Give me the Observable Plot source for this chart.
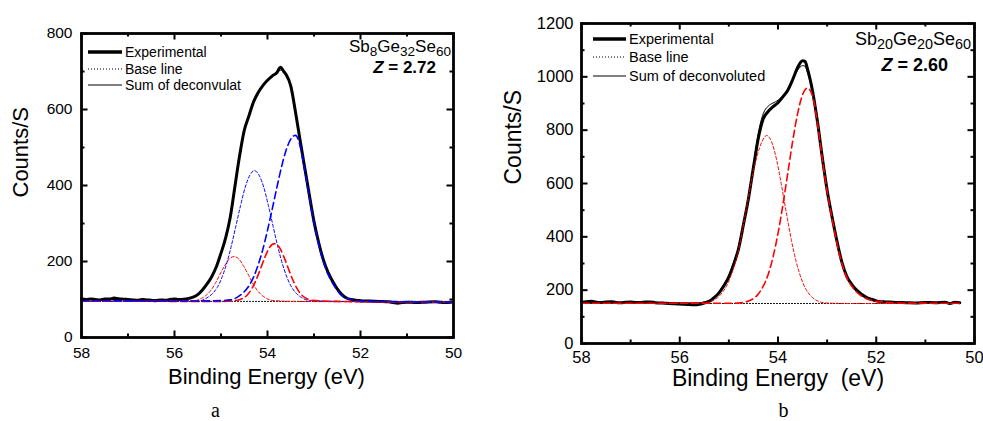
<!DOCTYPE html>
<html><head><meta charset="utf-8">
<script src="https://cdn.jsdelivr.net/npm/d3@7"></script>
<script src="https://cdn.jsdelivr.net/npm/@observablehq/plot@0.6"></script>
<style>
body{margin:0;background:#fff;width:983px;height:421px;position:relative;overflow:hidden;font-family:"Liberation Sans",Arial,sans-serif;color:#000;}
.panel{position:absolute;top:0;}
.row{position:absolute;display:flex;align-items:center;height:16px;white-space:nowrap;}
.row svg{display:block;margin-right:3px;}
.ann{position:absolute;white-space:nowrap;line-height:1;text-align:right;}
.ann sub{font-size:0.8em;vertical-align:-0.3em;line-height:0;}
</style></head><body>
<div id="pa" class="panel" style="left:0;width:490px;height:421px"></div>
<div id="pb" class="panel" style="left:490px;width:493px;height:421px"></div>
<script>
// ---------- shared axes ----------
const xMajor = [58, 56, 54, 52, 50];
const xMinor = [57, 55, 53, 51];
const aYMajor = [0, 200, 400, 600, 800];
const aYMinor = [100, 300, 500, 700];
const bYMajor = [0, 200, 400, 600, 800, 1000, 1200];
const bYMinor = [100, 300, 500, 700, 900, 1100];
const xLabelA = "Binding Energy (eV)";
const xLabelB = "Binding Energy  (eV)";
const yLabel = "Counts/S";
const legendA = ["Experimental", "Base line", "Sum of deconvulat"];
const legendB = ["Experimental", "Base line", "Sum of deconvoluted"];

// ---------- panel a : Sb8Ge32Se60 ----------
const aExperimental = [[58.0,102],[57.9,100],[57.8,101],[57.7,100],[57.6,99],[57.5,101],[57.4,101],[57.3,104],[57.2,102],[57.1,101],[57.0,100],[56.9,99],[56.8,98],[56.7,100],[56.6,99],[56.5,98],[56.4,97],[56.3,99],[56.2,98],[56.1,100],[56.0,101],[55.9,100],[55.8,101],[55.7,103],[55.6,106],[55.5,113],[55.4,125],[55.3,141],[55.2,160],[55.1,186],[55.0,222],[54.9,262],[54.8,317],[54.7,398],[54.6,478],[54.5,545],[54.4,583],[54.3,620],[54.2,645],[54.1,663],[54.0,677],[53.9,688],[53.8,697],[53.72,711],[53.65,700],[53.6,692],[53.5,662],[53.4,595],[53.3,520],[53.2,447],[53.1,375],[53.0,305],[52.9,250],[52.8,205],[52.7,172],[52.6,148],[52.5,128],[52.4,113],[52.3,104],[52.2,100],[52.1,98],[52.0,97],[51.8,96],[51.6,95],[51.4,94],[51.3,92],[51.2,90],[51.1,92],[51.0,93],[50.8,92],[50.6,93],[50.4,94],[50.3,93],[50.2,92],[50.05,93]];
const aSum = [[58.0,100],[57.0,100],[56.0,99],[55.7,102],[55.5,112],[55.3,140],[55.1,186],[55.0,222],[54.9,264],[54.8,318],[54.7,398],[54.6,476],[54.5,543],[54.4,584],[54.3,620],[54.2,645],[54.1,663],[54.0,677],[53.9,688],[53.8,698],[53.7,704],[53.6,690],[53.5,660],[53.4,595],[53.3,520],[53.2,447],[53.1,375],[53.0,305],[52.9,250],[52.8,205],[52.7,172],[52.6,148],[52.5,128],[52.4,113],[52.2,100],[52.0,97],[51.0,94],[50.05,93]];
const aBaseLine = [[58.0,95],[50.05,95]];
const aRedShort = [[58.0,96],[56.0,96],[55.52,98],[55.42,103],[55.32,111],[55.22,124],[55.12,143],[55.02,167],[54.92,189],[54.82,207],[54.72,213],[54.62,207],[54.52,189],[54.42,167],[54.32,143],[54.22,124],[54.12,111],[54.02,103],[53.92,98],[53.5,95],[52.0,94],[50.05,93]];
const aBlueShort = [[58.0,96],[56.0,96],[55.5,96],[55.28,106],[55.18,116],[55.08,132],[54.98,158],[54.88,194],[54.78,240],[54.68,293],[54.58,347],[54.48,395],[54.38,427],[54.28,439],[54.18,427],[54.08,395],[53.98,347],[53.88,293],[53.78,240],[53.68,194],[53.58,158],[53.48,132],[53.38,116],[53.28,106],[53.08,97],[52.5,95],[50.05,93]];
const aRedLong = [[58.0,96],[55.0,95],[54.65,98],[54.55,102],[54.45,110],[54.35,126],[54.25,150],[54.15,181],[54.05,213],[53.95,238],[53.85,247],[53.75,238],[53.65,213],[53.55,181],[53.45,150],[53.35,126],[53.25,110],[53.15,102],[53.05,98],[52.5,95],[50.05,93]];
const aBlueLong = [[58.0,97],[56.0,96],[55.5,96],[55.0,97],[54.8,99],[54.6,110],[54.4,136],[54.3,159],[54.2,191],[54.1,232],[54.0,282],[53.9,337],[53.8,394],[53.7,448],[53.6,493],[53.5,522],[53.4,532],[53.3,505],[53.2,440],[53.1,368],[53.0,300],[52.9,245],[52.8,200],[52.7,167],[52.6,143],[52.5,124],[52.4,110],[52.2,100],[52.0,96],[51.0,94],[50.05,93]];

// ---------- panel b : Sb20Ge20Se60 ----------
const bExperimental = [[58.0,155],[57.9,157],[57.8,158],[57.7,155],[57.6,154],[57.5,156],[57.4,157],[57.3,154],[57.2,153],[57.1,155],[57.0,156],[56.9,154],[56.8,154],[56.7,156],[56.6,156],[56.5,153],[56.4,152],[56.3,151],[56.2,150],[56.1,149],[56.0,148],[55.9,147],[55.8,146],[55.7,145],[55.6,147],[55.5,152],[55.4,158],[55.3,172],[55.2,190],[55.1,217],[55.0,250],[54.9,298],[54.8,358],[54.7,449],[54.6,545],[54.5,661],[54.4,771],[54.3,843],[54.2,870],[54.1,888],[54.0,903],[53.9,925],[53.8,950],[53.7,990],[53.6,1035],[53.5,1060],[53.45,1058],[53.4,1030],[53.3,950],[53.2,836],[53.1,700],[53.0,575],[52.9,475],[52.8,384],[52.7,305],[52.6,252],[52.5,222],[52.4,200],[52.3,185],[52.2,173],[52.1,166],[52.0,160],[51.9,157],[51.8,156],[51.6,154],[51.4,153],[51.2,152],[51.0,154],[50.8,153],[50.6,155],[50.5,150],[50.4,155],[50.3,153]];
const bSum = [[58.0,153],[57.0,153],[56.0,152],[55.6,153],[55.5,156],[55.4,162],[55.3,175],[55.2,195],[55.1,222],[55.0,256],[54.9,305],[54.8,366],[54.7,452],[54.6,550],[54.5,665],[54.4,790],[54.3,862],[54.2,890],[54.1,902],[54.0,912],[53.9,930],[53.8,955],[53.7,990],[53.6,1025],[53.5,1042],[53.45,1040],[53.4,1015],[53.3,945],[53.2,830],[53.1,697],[53.0,572],[52.9,470],[52.8,378],[52.7,303],[52.6,250],[52.5,218],[52.4,196],[52.3,181],[52.2,170],[52.1,163],[52.0,158],[51.5,153],[50.3,152]];
const bBaseLine = [[58.0,150],[50.3,150]];
const bRedShort = [[58.0,151],[56.0,151],[55.5,153],[55.33,160],[55.23,172],[55.13,192],[55.03,222],[54.93,270],[54.83,330],[54.73,420],[54.63,520],[54.53,620],[54.43,700],[54.33,756],[54.23,780],[54.13,756],[54.03,690],[53.93,595],[53.83,490],[53.73,390],[53.63,307],[53.53,245],[53.43,203],[53.33,178],[53.23,163],[53.03,152],[52.5,150],[50.3,150]];
const bRedLong = [[58.0,151],[56.0,151],[55.0,151],[54.8,152],[54.6,159],[54.4,186],[54.3,215],[54.2,259],[54.1,325],[54.0,413],[53.9,520],[53.8,640],[53.7,760],[53.6,863],[53.5,933],[53.4,958],[53.3,930],[53.2,830],[53.1,695],[53.0,570],[52.9,468],[52.8,375],[52.7,300],[52.6,248],[52.5,215],[52.4,193],[52.3,178],[52.2,168],[52.0,158],[51.5,152],[50.3,151]];

// ---------- drawing ----------
const pts = arr => arr.map(([e, c]) => ({e, c}));
const SHORT = "3,2.2", LONG = "7,4";

function makePanel(cfg) {
  const W = cfg.width, H = 421, m = cfg.margin;
  const pw = W - m.left - m.right, ph = H - m.top - m.bottom;
  const line = (arr, o) => Plot.line(pts(arr), {x: "e", y: "c", curve: "monotone-x", strokeLinejoin: "round", ...o});
  const tw = 2, maj = 6.5, mnr = 3.5;
  return Plot.plot({
    width: W, height: H,
    marginLeft: m.left, marginRight: m.right, marginTop: m.top, marginBottom: m.bottom,
    x: {domain: [58, 50], label: null},
    y: {domain: [0, cfg.ymax], label: null},
    style: {fontFamily: '"Liberation Sans", Arial, sans-serif', color: "#000"},
    marks: [
      ...cfg.lines.map(([arr, o]) => line(arr, o)),
      Plot.axisX({ticks: xMajor, tickSize: 0, tickPadding: cfg.xPad, fontSize: cfg.tickFont, tickFormat: d => String(d), label: null}),
      Plot.axisY({ticks: cfg.yMajor, tickSize: 0, tickPadding: cfg.yPad, fontSize: cfg.tickFont, tickFormat: d => String(d), label: null}),
      Plot.ruleX(xMajor, {insetTop: ph - maj, stroke: "black", strokeWidth: tw}),
      Plot.ruleX(xMajor, {insetBottom: ph - maj, stroke: "black", strokeWidth: tw}),
      Plot.ruleX(xMinor, {insetTop: ph - mnr, stroke: "black", strokeWidth: tw}),
      Plot.ruleX(xMinor, {insetBottom: ph - mnr, stroke: "black", strokeWidth: tw}),
      Plot.ruleY(cfg.yMajor, {insetRight: pw - maj, stroke: "black", strokeWidth: tw}),
      Plot.ruleY(cfg.yMajor, {insetLeft: pw - maj, stroke: "black", strokeWidth: tw}),
      Plot.ruleY(cfg.yMinor, {insetRight: pw - mnr, stroke: "black", strokeWidth: tw}),
      Plot.ruleY(cfg.yMinor, {insetLeft: pw - mnr, stroke: "black", strokeWidth: tw}),
      Plot.frame({stroke: "black", strokeWidth: 2.8}),
      Plot.text([cfg.xLabel], {text: d => d, frameAnchor: "bottom", dx: cfg.xLabelDx, dy: cfg.xLabelDy, fontSize: cfg.labelFont}),
      Plot.text([yLabel], {text: d => d, frameAnchor: "left", rotate: -90, dx: cfg.yLabelDx, dy: cfg.yLabelDy, fontSize: cfg.labelFont}),
      Plot.text([cfg.letter], {text: d => d, frameAnchor: "bottom", dx: cfg.letterDx, dy: cfg.letterDy, fontSize: 20, fontFamily: '"Liberation Serif", "DejaVu Serif", serif'})
    ]
  });
}

const chartA = makePanel({
  width: 490, margin: {left: 81, right: 37, top: 33, bottom: 84}, ymax: 800,
  yMajor: aYMajor, yMinor: aYMinor, tickFont: 15.5, xPad: 9.5, yPad: 9, labelFont: 22,
  xLabel: xLabelA, xLabelDx: -1, xLabelDy: 46, yLabelDx: -61, yLabelDy: 12,
  letter: "a", letterDx: -52, letterDy: 79,
  lines: [
    [aBaseLine, {stroke: "black", strokeWidth: 1, strokeDasharray: "1,2"}],
    [aSum, {stroke: "black", strokeWidth: 1}],
    [aExperimental, {stroke: "black", strokeWidth: 3}],
    [aRedShort, {stroke: "#ff0000", strokeWidth: 1, strokeDasharray: SHORT}],
    [aBlueShort, {stroke: "#0000ff", strokeWidth: 1, strokeDasharray: SHORT}],
    [aRedLong, {stroke: "#ff0000", strokeWidth: 1.6, strokeDasharray: LONG}],
    [aBlueLong, {stroke: "#0000ff", strokeWidth: 1.6, strokeDasharray: LONG}]
  ]
});
document.getElementById("pa").appendChild(chartA);

const chartB = makePanel({
  width: 493, margin: {left: 91, right: 9, top: 23, bottom: 78}, ymax: 1200,
  yMajor: bYMajor, yMinor: bYMinor, tickFont: 16.5, xPad: 8, yPad: 8, labelFont: 23,
  xLabel: xLabelB, xLabelDx: 0, xLabelDy: 42, yLabelDx: -68, yLabelDy: 1,
  letter: "b", letterDx: 5.5, letterDy: 73,
  lines: [
    [bBaseLine, {stroke: "black", strokeWidth: 1, strokeDasharray: "1,2"}],
    [bExperimental, {stroke: "black", strokeWidth: 3}],
    [bSum, {stroke: "black", strokeWidth: 1}],
    [bRedShort, {stroke: "#ff0000", strokeWidth: 1, strokeDasharray: SHORT}],
    [bRedLong, {stroke: "#ff0000", strokeWidth: 1.6, strokeDasharray: LONG}]
  ]
});
document.getElementById("pb").appendChild(chartB);

// ---------- legends & annotations (HTML overlays) ----------
const legendStyles = [
  {w: 3.5, dash: null},
  {w: 1, dash: "1,2"},
  {w: 1, dash: null}
];
function addLegend(labels, left, tops, lineW, fontSize) {
  labels.forEach((lab, i) => {
    const s = legendStyles[i];
    const row = document.createElement("div");
    row.className = "row";
    row.style.left = left + "px";
    row.style.top = (tops[i] - 8) + "px";
    row.style.fontSize = fontSize + "px";
    row.innerHTML = `<svg width="${lineW}" height="16"><line x1="0" x2="${lineW}" y1="8" y2="8" stroke="black" stroke-width="${s.w}" ${s.dash ? `stroke-dasharray="${s.dash}"` : ""}/></svg><span>${lab}</span>`;
    document.body.appendChild(row);
  });
}
addLegend(legendA, 88, [52, 68.5, 85], 34, 14);
addLegend(legendB, 593, [39, 57, 75.5], 33, 14.5);

function addAnn(html, right, top, fontSize, bold) {
  const d = document.createElement("div");
  d.className = "ann";
  d.style.right = (983 - right) + "px";
  d.style.top = top + "px";
  d.style.fontSize = fontSize + "px";
  if (bold) d.style.fontWeight = "bold";
  d.innerHTML = html;
  document.body.appendChild(d);
}
addAnn("Sb<sub>8</sub>Ge<sub>32</sub>Se<sub>60</sub>", 451, 38, 17, false);
addAnn("<i>Z</i> = 2.72", 436, 59, 17, true);
addAnn("Sb<sub>20</sub>Ge<sub>20</sub>Se<sub>60</sub>", 971, 30, 18, false);
addAnn("<i>Z</i> = 2.60", 948, 56, 18, true);
</script>
</body></html>
